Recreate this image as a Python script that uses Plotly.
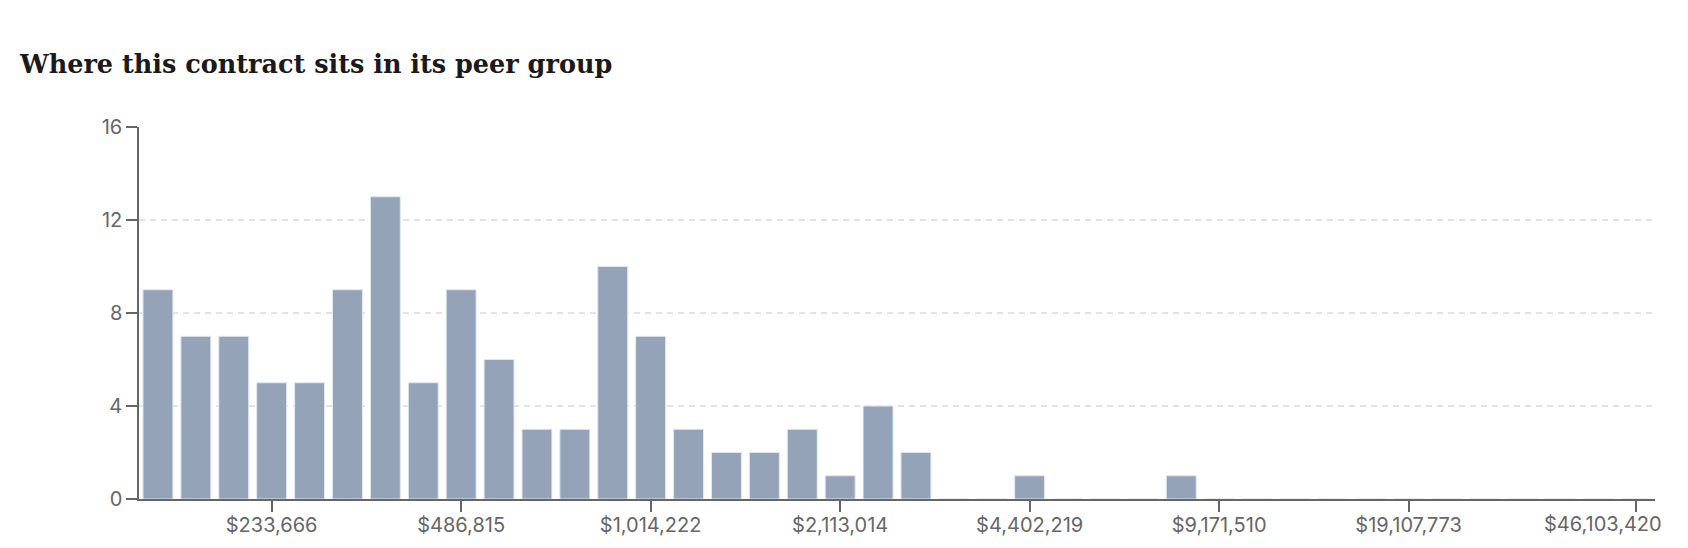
import plotly.graph_objects as go

# Histogram of peer contract values (40 log-spaced bins)
bin_index = list(range(40))
counts = [9, 7, 7, 5, 5, 9, 13, 5, 9, 6,
          3, 3, 10, 7, 3, 2, 2, 3, 1, 4,
          2, 0, 0, 1, 0, 0, 0, 1, 0, 0,
          0, 0, 0, 0, 0, 0, 0, 0, 0, 0]

tick_bins = [3, 8, 13, 18, 23, 28, 33, 39]
tick_labels = ["$233,666", "$486,815", "$1,014,222", "$2,113,014",
               "$4,402,219", "$9,171,510", "$19,107,773", "$46,103,420"]

y_ticks = [0, 4, 8, 12, 16]

title_text = "Where this contract sits in its peer group"

W, H = 1688, 548
ml, mr, mt, mb = 138.5, 33.4, 127.3, 48.7

fig = go.Figure()
fig.add_trace(go.Bar(
    x=bin_index,
    y=counts,
    marker=dict(color="#94a3b8", line=dict(color="#e2e8f0", width=1)),
    hoverinfo="skip",
))

axis_color = "#666666"
tick_font = dict(family="Inter", size=20, color="#666666")

# last tick label is drawn end-aligned (as in the reference) via an annotation
shown_labels = tick_labels[:-1] + [""]

fig.update_layout(
    width=W, height=H,
    margin=dict(l=ml, r=mr, t=mt, b=mb, pad=0),
    paper_bgcolor="white",
    plot_bgcolor="white",
    bargap=0.21,
    showlegend=False,
    title=dict(
        text=title_text,
        font=dict(family="DejaVu Serif", size=25.5, color="#1a1a1a", weight="bold"),
        x=20 / W, xanchor="left", xref="container",
        y=1 - 64 / H, yanchor="middle", yref="container",
    ),
)

fig.add_annotation(
    x=tick_bins[-1], xref="x",
    y=0, yref="paper",
    text=tick_labels[-1],
    showarrow=False,
    xanchor="right", yanchor="top",
    xshift=27, yshift=-12,
    font=tick_font,
    borderpad=0,
)

fig.update_xaxes(
    range=[-0.5, 39.5],
    tickmode="array",
    tickvals=tick_bins,
    ticktext=shown_labels,
    showline=True, linecolor=axis_color, linewidth=1.5,
    ticks="outside", ticklen=11, tickwidth=1.5, tickcolor=axis_color,
    tickfont=tick_font,
    ticklabelstandoff=-4,
    showgrid=False, zeroline=False,
    automargin=False,
)

fig.update_yaxes(
    range=[0, 16],
    tickmode="array",
    tickvals=y_ticks,
    showline=True, linecolor=axis_color, linewidth=1.5,
    ticks="outside", ticklen=11, tickwidth=1.5, tickcolor=axis_color,
    tickfont=tick_font,
    showgrid=True, gridcolor="#e0e4ea", gridwidth=1.5, griddash="6px,5px",
    zeroline=False,
    automargin=False,
)

fig.write_html("out.html")
